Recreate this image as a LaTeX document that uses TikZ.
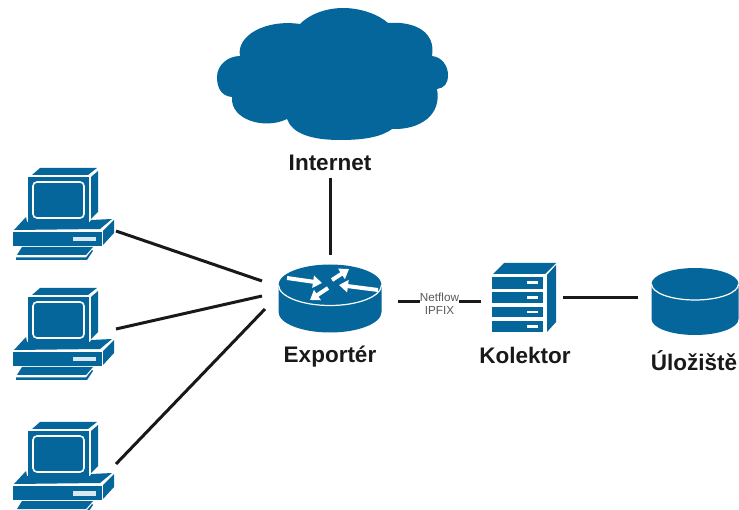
\documentclass[tikz,border=0pt]{standalone}
\usepackage{fontspec}
\setmainfont{Liberation Sans}
\usetikzlibrary{positioning, arrows.meta}
\definecolor{netblue}{HTML}{04669A}
\tikzset{
every node/.style={inner sep=0pt, outer sep=0pt},
device/.style={minimum width=#1, minimum height=70pt}, % invisible box round an icon, lines start at its border
link/.style={line width=3pt, draw=black!90},
caption/.style={font=\bfseries\fontsize{22.5}{24}\selectfont, text=black!90},
flowtext/.style={font=\fontsize{11.7}{13.5}\selectfont, align=center, text=black!65, fill=white},
face/.style={fill=netblue, draw=none},
turn/.style={white, line width=4pt, -{Triangle[length=9pt, width=12pt]}},
computer/.pic={
    \fill[netblue] (32,7) -- (40,0) -- (97,0) -- (88,7) -- cycle;
    \fill[netblue] (91,9) -- (98,3) -- (98,44) -- (91,51) -- cycle;
    \fill[netblue] (28,9) rectangle (89,54);
    \draw[white, line width=1.6pt, rounded corners=4pt] (33,14) rectangle (84,50);
    \fill[netblue] (14,62) -- (26,49) -- (27,54) -- (90,54) -- (91,52) -- (112,51) -- (100,61) -- cycle;
    \fill[netblue] (13,64) rectangle (102,78);
    \fill[white!85!netblue] (73,69) rectangle (96,73.5);
    \fill[netblue] (103,63) -- (114,52) -- (114,65) -- (103,77) -- cycle;
    \fill[netblue] (22,79) -- (93,79) -- (86,87) -- (17,87) -- cycle;
    \fill[netblue] (16,89.5) -- (86,89.5) -- (92,82) -- (93,83) -- (87,92) -- (16,92) -- cycle;
},
router/.pic={
    \path[face] (-51.5,0) -- (-51.5,27) arc[x radius=51.5, y radius=20.5, start angle=180, end angle=0] -- (51.5,0) arc[x radius=51.5, y radius=20.5, start angle=0, end angle=-180] -- cycle;
    \draw[white, line width=1.2pt] (-51.5,0) arc[x radius=51.5, y radius=20.5, start angle=180, end angle=0];
    \draw[turn] (-43,-7) -- (-8,-2);
    \draw[turn] (2,-5) -- (19,-16);
    \draw[turn] (48,5) -- (9,0);
    \draw[turn] (-2,3) -- (-20,15);
},
server/.pic={
    \fill[netblue] (1,11) -- (12,0) -- (64,0) -- (53,11) -- cycle;
    \fill[netblue] (55,12) -- (64,2) -- (64,59) -- (55,69) -- cycle;
    \fill[netblue] (0,14) rectangle (51,26);
    \fill[netblue] (0,29) rectangle (51,40);
    \fill[netblue] (0,44) rectangle (51,54);
    \fill[netblue] (0,58) rectangle (51,69);
    \fill[white] (35,18.5) rectangle (46,21);
    \fill[white] (35,33.5) rectangle (46,36);
    \fill[white] (35,48) rectangle (46,50.5);
    \fill[white] (35,62.5) rectangle (46,65);
},
storage/.pic={
    \path[face] (-43.5,0) -- (-43.5,35) arc[x radius=43.5, y radius=16, start angle=180, end angle=0] -- (43.5,0) arc[x radius=43.5, y radius=16, start angle=0, end angle=-180] -- cycle;
    \draw[white, line width=1.2pt] (-43.5,0) arc[x radius=43.5, y radius=16, start angle=180, end angle=0];
},
}

\begin{document}
\begin{tikzpicture}[x=1pt, y=-1pt]
    \useasboundingbox (0,0) rectangle (739,510);

    \fill[netblue] (300,24) .. controls (312,12) and (330,8) .. (343,8)
        .. controls (360,8) and (378,14) .. (388,23)
        .. controls (415,21) and (436,32) .. (432,56)
        .. controls (442,57) and (448,66) .. (448,75)
        .. controls (448,84) and (444,88) .. (437,89)
        .. controls (442,115) and (420,130) .. (392,129)
        .. controls (380,138) and (360,140) .. (340,140)
        .. controls (310,140) and (292,133) .. (287,119)
        .. controls (265,130) and (230,120) .. (232,97)
        .. controls (220,96) and (217,86) .. (217,77)
        .. controls (217,65) and (228,56) .. (240,56)
        .. controls (236,36) and (265,19) .. (300,24) -- cycle;

    \pic at (0,168) {computer};
    \pic at (0,288) {computer};
    \pic at (0,422) {computer};
    \pic at (330,285) {router};
    \pic at (492,263) {server};
    \pic at (695,284) {storage};

    \node [device=104pt] (pc1) at (64,214) {};
    \node [device=104pt] (pc2) at (64,334) {};
    \node [device=104pt] (pc3) at (64,468) {};
    \node [device=136pt, minimum height=90pt] (exporter) at (330,300) {};
    \node [device=82pt] (collector) at (522,300) {};
    \node [device=100pt] (store) at (688,300) {};

    \node [caption, minimum height=30pt] (internet) at (330,163) {Internet};
    \node [caption, below=57pt of exporter.center, anchor=center] (exporterlabel) {Exportér};
    \node [caption, below=55pt of collector.center, xshift=3pt, anchor=center] (collectorlabel) {Kolektor};
    \node [caption, below=61pt of store.center, xshift=6pt, anchor=center] (storelabel) {Úložiště};

    \draw[link] (internet.south) -- (exporter.north);
    \draw[link] ([yshift=-17pt]pc1.east) -- ([yshift=19pt]exporter.west);
    \draw[link] ([yshift=5pt]pc2.east) -- ([yshift=4pt]exporter.west);
    \draw[link] ([yshift=4pt]pc3.east) -- ([xshift=3pt, yshift=-9pt]exporter.west);
    \draw[link] ([yshift=-2pt]exporter.east) -- node[flowtext, yshift=-2pt] (flow) {Netflow\\IPFIX} ([yshift=-2pt]collector.west);
    \draw[link] ([yshift=2pt]collector.east) -- ([yshift=2pt]store.west);
\end{tikzpicture}
\end{document}
